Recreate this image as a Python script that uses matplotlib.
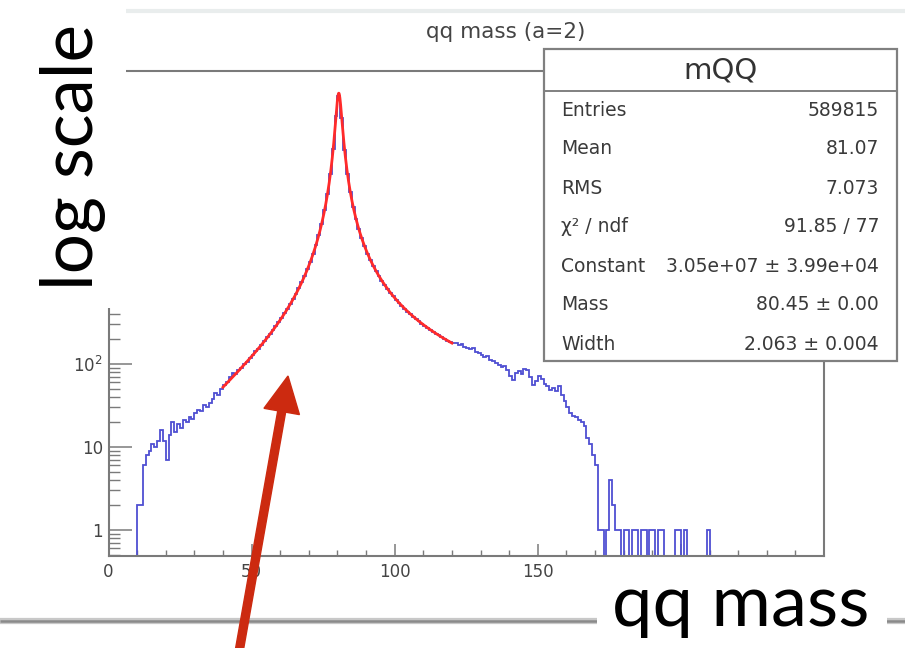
import numpy as np
import matplotlib
matplotlib.use("Agg")
import matplotlib.pyplot as plt
from matplotlib.patches import Rectangle, FancyArrow
from matplotlib.ticker import FixedLocator, FuncFormatter, NullFormatter, LogLocator

# ---------------- data ----------------
N_BINS = 250
X_RANGE = (0.0, 250.0)

# bins 10..39
left_tail_counts = [2, 2, 6, 8, 9, 11, 10, 12, 16, 12, 7, 14, 20, 15, 19, 17, 21, 20, 23, 22,
                    26, 28, 27, 32, 30, 34, 38, 45, 42, 50]
LEFT_START = 10
# bins 40..119 (fit region)
peak_counts = [56, 60, 70, 78, 77, 84, 90, 101, 107, 120,
               128, 143, 154, 172, 188, 210, 230, 259, 285, 323,
               358, 409, 460, 530, 603, 702, 815, 966, 1145, 1390,
               1698, 2135, 2725, 3610, 4940, 7160, 11100, 19250, 39100, 98500,
               172000, 92500, 38200, 19700, 11750, 7840, 5580, 4195, 3260, 2620,
               2148, 1802, 1528, 1322, 1149, 1015, 898, 807, 724, 658,
               597, 549, 503, 466, 430, 401, 372, 350, 327, 308,
               289, 274, 258, 246, 231, 222, 210, 201, 190, 184]
PEAK_START = 40
# bins 120..170
right_tail_counts = [180, 178, 168, 176, 160, 158, 150, 156, 140, 135,
                     128, 121, 125, 112, 108, 102, 98, 92, 95, 84,
                     72, 64, 78, 82, 75, 88, 85, 70, 56, 62,
                     72, 66, 58, 54, 49, 52, 48, 55, 42, 36,
                     30, 26, 24, 23, 21, 20, 18, 13, 11, 8, 6]
RIGHT_START = 120
# bins 171..209
sparse_counts = [1, 1, 0, 1, 4, 2, 1, 1, 0, 1,
                 1, 0, 1, 1, 0, 1, 1, 0, 1, 1,
                 0, 1, 1, 0, 0, 0, 0, 1, 1, 0,
                 1, 0, 0, 0, 0, 0, 0, 0, 1]
SPARSE_START = 171

# fit (from the stats box)
FIT_CONSTANT = 3.05e7
FIT_MASS = 80.45
FIT_WIDTH = 2.063
FIT_RANGE = (40.0, 120.0)

title = "qq mass (a=2)"
stats_name = "mQQ"
stats_labels = ["Entries", "Mean", "RMS", "χ² / ndf", "Constant", "Mass", "Width"]
stats_values = ["589815", "81.07", "7.073", "91.85 / 77",
                "3.05e+07 ± 3.99e+04", "80.45 ± 0.00", "2.063 ± 0.004"]
x_major_ticks = [0, 50, 100, 150, 200, 250]
x_tick_labels = ["0", "50", "100", "150", "", ""]   # 200/250 hidden by the annotation box
y_tick_labels = [1, 10, 100]

# ---------------- assemble histogram ----------------
counts = np.zeros(N_BINS)
for start, arr in [(LEFT_START, left_tail_counts), (PEAK_START, peak_counts),
                   (RIGHT_START, right_tail_counts), (SPARSE_START, sparse_counts)]:
    counts[start:start + len(arr)] = arr
edges = np.linspace(X_RANGE[0], X_RANGE[1], N_BINS + 1)

def fit_func(x):
    m2 = FIT_MASS ** 2
    return FIT_CONSTANT * FIT_WIDTH * x ** 2 / FIT_MASS / ((x ** 2 - m2) ** 2 + m2 * FIT_WIDTH ** 2)

# ---------------- figure ----------------
W, H = 905, 648
fig = plt.figure(figsize=(W / 100, H / 100), dpi=100)
fig.patch.set_facecolor("white")

L, R, T, B = 108.5, 824, 71, 556
ax = fig.add_axes([L / W, (H - B) / H, (R - L) / W, (B - T) / H])
ax.set_yscale("log", nonpositive="clip")
ax.set_xlim(*X_RANGE)
ax.set_ylim(0.487, 3.4e5)

ax.stairs(counts, edges, color="#4f4fd2", linewidth=1.3, baseline=None, zorder=2)
xf = np.linspace(FIT_RANGE[0], FIT_RANGE[1], 2000)
ax.plot(xf, fit_func(xf), color="#ff2a2a", linewidth=2.0, zorder=3)

frame_col = "#7a7a7a"
for s in ax.spines.values():
    s.set_color(frame_col)
    s.set_linewidth(1.5)

ax.set_xticks(x_major_ticks, x_tick_labels)
ax.xaxis.set_minor_locator(FixedLocator(np.arange(0, 251, 10)))

def yfmt(v, p):
    e = int(round(np.log10(v)))
    if e == 0:
        return "1"
    if e == 1:
        return "10"
    return r"$10^{%d}$" % e

ax.yaxis.set_major_locator(FixedLocator(y_tick_labels))
ax.yaxis.set_major_formatter(FuncFormatter(yfmt))
ax.yaxis.set_minor_locator(LogLocator(base=10, subs=np.arange(2, 10), numticks=20))
ax.yaxis.set_minor_formatter(NullFormatter())
ax.tick_params(axis="x", which="major", direction="in", length=8.5, width=1.1,
               color=frame_col, labelsize=12, labelcolor="#444444", pad=5, top=False)
ax.tick_params(axis="x", which="minor", direction="in", length=4.5, width=1.0,
               color=frame_col, top=False)
ax.tick_params(axis="y", which="major", direction="in", length=16.5, width=1.1,
               color=frame_col, labelsize=12, labelcolor="#444444", pad=4, right=False)
ax.tick_params(axis="y", which="minor", direction="in", length=8, width=1.0,
               color=frame_col, right=False)
for lab in ax.get_xticklabels() + ax.get_yticklabels():
    lab.set_fontfamily("DejaVu Sans")

# ---------------- overlay in pixel coordinates ----------------
ov = fig.add_axes([0, 0, 1, 1], zorder=10)
ov.set_xlim(0, W)
ov.set_ylim(H, 0)
ov.axis("off")
ov.patch.set_visible(False)

# screenshot borders
ov.plot([126, W], [11, 11], color="#e9eded", lw=3, solid_capstyle="butt")
ov.plot([0, W], [621, 621], color="#c8c8c8", lw=4.5, solid_capstyle="butt")
ov.plot([0, W], [621, 621], color="#8a8a8a", lw=1.8, solid_capstyle="butt")

# title
ov.text(506, 32, title, ha="center", va="center", fontsize=15.5, color="#444444",
        family="DejaVu Sans")

# stats box
sx0, sx1, sy0, sy1 = 544, 897, 49, 361
ov.add_patch(Rectangle((sx0, sy0), sx1 - sx0, sy1 - sy0, facecolor="white",
                       edgecolor="#808080", lw=1.6, zorder=5))
ov.plot([sx0, sx1], [91, 91], color="#808080", lw=1.4, zorder=6)
ov.text((sx0 + sx1) / 2, 71, stats_name, ha="center", va="center", fontsize=21,
        color="#333333", family="DejaVu Sans", zorder=7)
row_y0, row_dy = 110, 39
for i, (lab, val) in enumerate(zip(stats_labels, stats_values)):
    yy = row_y0 + i * row_dy
    ov.text(561, yy, lab, ha="left", va="center", fontsize=13.5, color="#3a3a3a",
            family="DejaVu Sans", zorder=7)
    ov.text(879, yy, val, ha="right", va="center", fontsize=13.5, color="#3a3a3a",
            family="DejaVu Sans", zorder=7)

# annotation boxes
ov.add_patch(Rectangle((23, 8), 103, 300, facecolor="white", edgecolor="none", zorder=8))
ov.text(93, 290, "log scale", rotation=90, rotation_mode="anchor", ha="left",
        va="baseline", fontsize=51, color="black", family="Lato", zorder=9)
ov.add_patch(Rectangle((597, 560), 290, 90, facecolor="white", edgecolor="none", zorder=8))
ov.text(612, 626, "qq mass", ha="left", va="baseline", fontsize=52, color="black",
        family="Lato", zorder=9)

# red arrow
tip = (288, 376)
tail = (239, 652)
ov.add_patch(FancyArrow(tail[0], tail[1], tip[0] - tail[0], tip[1] - tail[1],
                        width=8, head_width=36, head_length=36,
                        length_includes_head=True, color="#cc2a10", zorder=12))

fig.savefig("out.png", dpi=100, facecolor="white")
